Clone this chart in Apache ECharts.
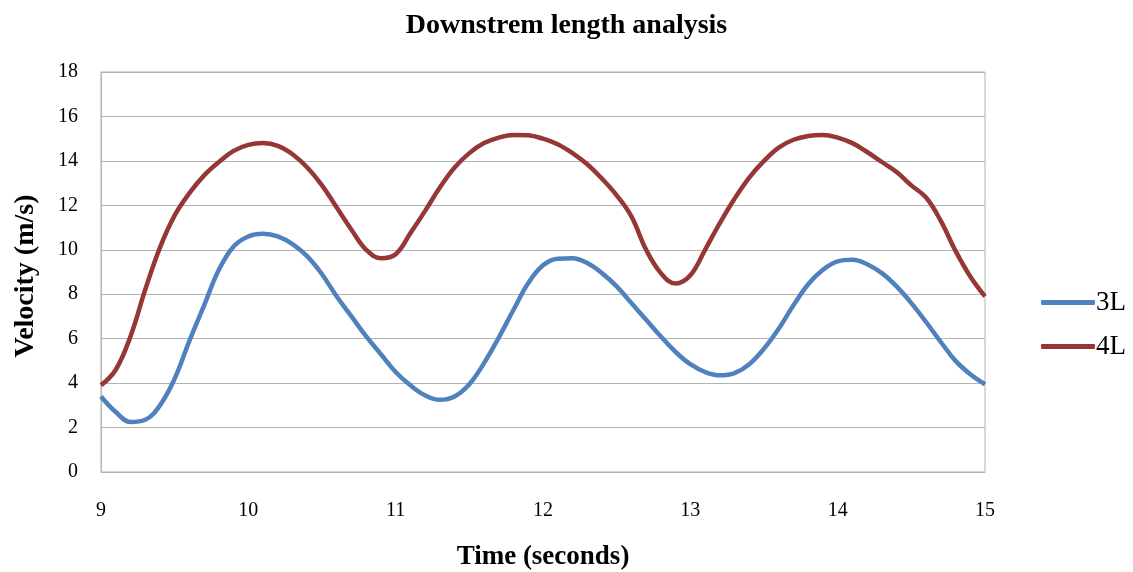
<!DOCTYPE html>
<html>
<head>
<meta charset="utf-8">
<title>Downstrem length analysis</title>
<script src="https://cdn.jsdelivr.net/npm/echarts@6/dist/echarts.min.js"></script>
<style>
  html, body { margin: 0; padding: 0; background: #fff; }
  #chart { width: 1133px; height: 572px; }
</style>
</head>
<body>
<div id="chart"></div>
<script>
// Sample times (s)
const times = [
  9.0, 9.1, 9.2, 9.3, 9.4, 9.5, 9.6, 9.7, 9.8, 9.9,
  10.0, 10.1, 10.2, 10.3, 10.4, 10.5, 10.6, 10.7, 10.8, 10.9,
  11.0, 11.1, 11.2, 11.3, 11.4, 11.5, 11.6, 11.7, 11.8, 11.9,
  12.0, 12.1, 12.2, 12.3, 12.4, 12.5, 12.6, 12.7, 12.8, 12.9,
  13.0, 13.1, 13.2, 13.3, 13.4, 13.5, 13.6, 13.7, 13.8, 13.9,
  14.0, 14.1, 14.2, 14.3, 14.4, 14.5, 14.6, 14.7, 14.8, 14.9,
  15.0
];

// Velocity (m/s), downstream length 3L
const velocity3L = [
  3.4, 2.7, 2.25, 2.35, 3.0, 4.2, 5.9, 7.5, 9.1, 10.15,
  10.6, 10.72, 10.6, 10.25, 9.7, 8.9, 7.9, 7.0, 6.1, 5.3,
  4.5, 3.9, 3.45, 3.25, 3.4, 3.95, 4.9, 6.05, 7.3, 8.5,
  9.3, 9.6, 9.62, 9.4, 8.95, 8.35, 7.6, 6.85, 6.1, 5.4,
  4.85, 4.5, 4.35, 4.45, 4.85, 5.55, 6.45, 7.5, 8.45, 9.1,
  9.48, 9.55, 9.35, 8.95, 8.35, 7.6, 6.75, 5.85, 5.0, 4.4,
  3.95
];

// Velocity (m/s), downstream length 4L
const velocity4L = [
  3.9, 4.6, 6.1, 8.2, 10.1, 11.55, 12.55, 13.35, 13.95, 14.45,
  14.72, 14.8, 14.68, 14.3, 13.7, 12.9, 11.9, 10.9, 10.0, 9.62,
  9.8, 10.75, 11.75, 12.8, 13.7, 14.35, 14.8, 15.05, 15.17, 15.15,
  15.0, 14.75, 14.35, 13.85, 13.2, 12.45, 11.5, 10.0, 8.95, 8.48,
  8.85, 10.0, 11.2, 12.3, 13.25, 14.0, 14.6, 14.95, 15.12, 15.17,
  15.05, 14.8, 14.4, 13.95, 13.5, 12.9, 12.35, 11.3, 9.95, 8.8,
  7.9
];

const seriesNames = ['3L', '4L'];
const seriesColors = ['#4F81BD', '#953735'];

const pairs = vals => times.map((t, i) => [t, vals[i]]);

const serif = '"Liberation Serif", "DejaVu Serif", serif';
const gridGray = '#b3b3b3';

const chart = echarts.init(document.getElementById('chart'));
chart.setOption({
  backgroundColor: '#fff',
  animation: false,
  title: {
    text: 'Downstrem length analysis',
    left: 'center',
    top: 7,
    textStyle: { fontFamily: serif, fontSize: 28, fontWeight: 'bold', color: '#000' }
  },
  grid: {
    left: 101, right: 148, top: 72, bottom: 100,
    outerBoundsMode: 'none',
    containLabel: false,
    show: true, borderColor: gridGray, borderWidth: 1, backgroundColor: 'transparent'
  },
  legend: {
    orient: 'vertical',
    left: 1036,
    top: 284,
    itemWidth: 54,
    itemHeight: 5,
    itemGap: 17,
    icon: 'roundRect',
    textStyle: { fontFamily: serif, fontSize: 27, color: '#000', padding: [0, 0, 0, -4] },
    data: seriesNames
  },
  xAxis: {
    type: 'value',
    min: 9, max: 15, interval: 1,
    name: 'Time (seconds)',
    nameLocation: 'middle',
    nameGap: 72,
    nameTextStyle: { fontFamily: serif, fontSize: 27, fontWeight: 'bold', color: '#000' },
    axisLine: { show: true, lineStyle: { color: gridGray, width: 1 } },
    axisTick: { show: false },
    axisLabel: { fontFamily: serif, fontSize: 20, color: '#000', margin: 29 },
    splitLine: { show: false }
  },
  yAxis: {
    type: 'value',
    min: 0, max: 18, interval: 2,
    name: 'Velocity (m/s)',
    nameLocation: 'middle',
    nameGap: 61,
    nameTextStyle: { fontFamily: serif, fontSize: 28, fontWeight: 'bold', color: '#000', padding: [0, 8, 0, 0] },
    axisLine: { show: true, lineStyle: { color: gridGray, width: 1 } },
    axisTick: { show: false },
    axisLabel: { fontFamily: serif, fontSize: 20, color: '#000', margin: 23, padding: [6, 0, 0, 0] },
    splitLine: { show: true, lineStyle: { color: gridGray, width: 1 } }
  },
  series: [
    {
      name: seriesNames[0],
      type: 'line',
      data: pairs(velocity3L),
      smooth: 0.4,
      showSymbol: false,
      color: seriesColors[0],
      lineStyle: { width: 4.5, color: seriesColors[0] }
    },
    {
      name: seriesNames[1],
      type: 'line',
      data: pairs(velocity4L),
      smooth: 0.4,
      showSymbol: false,
      color: seriesColors[1],
      lineStyle: { width: 4.5, color: seriesColors[1] }
    }
  ]
});
</script>
</body>
</html>
